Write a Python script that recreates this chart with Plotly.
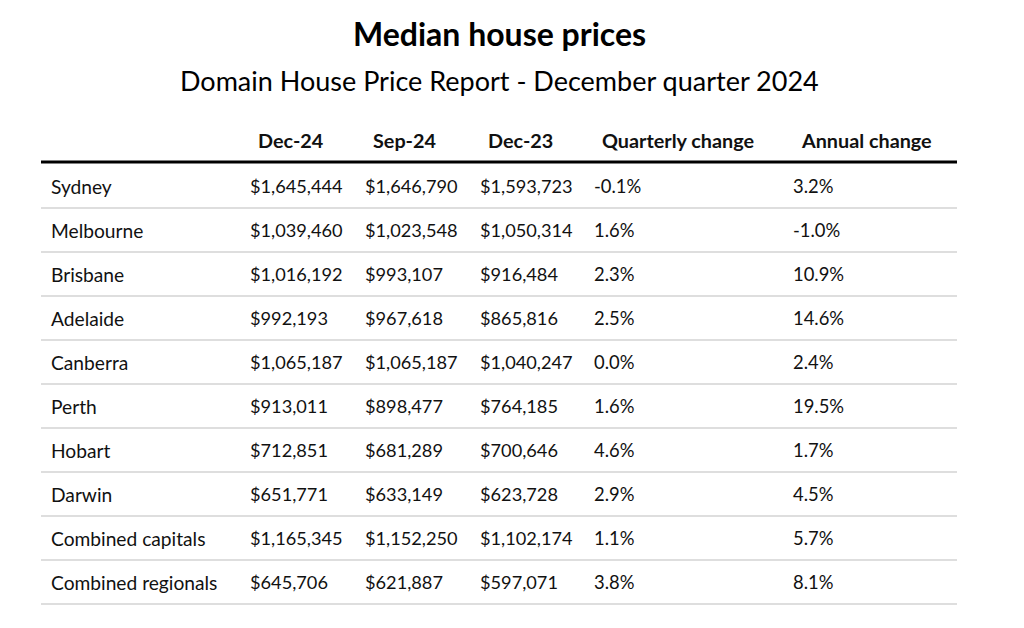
import plotly.graph_objects as go

title = "Median house prices"
subtitle = "Domain House Price Report - December quarter 2024"
headers = ["", "Dec-24", "Sep-24", "Dec-23", "Quarterly change", "Annual change"]
cities = ["Sydney", "Melbourne", "Brisbane", "Adelaide", "Canberra", "Perth",
          "Hobart", "Darwin", "Combined capitals", "Combined regionals"]
dec24 = [1645444, 1039460, 1016192, 992193, 1065187, 913011, 712851, 651771, 1165345, 645706]
sep24 = [1646790, 1023548, 993107, 967618, 1065187, 898477, 681289, 633149, 1152250, 621887]
dec23 = [1593723, 1050314, 916484, 865816, 1040247, 764185, 700646, 623728, 1102174, 597071]
q_change = [-0.1, 1.6, 2.3, 2.5, 0.0, 1.6, 4.6, 2.9, 1.1, 3.8]
a_change = [3.2, -1.0, 10.9, 14.6, 2.4, 19.5, 1.7, 4.5, 5.7, 8.1]

FONT = "Source Sans Pro, Lato, Noto Sans, sans-serif"
W, H = 1024, 628
OFF = 8  # page body margin
col_x = [49, 248, 363, 478, 592, 791]
head_x = [49, 256, 371, 486, 600, 799]
head_y = 139.5
row_y0 = 186
row_h = 44
left, right = 41, 957

columns = [
    cities,
    [f"${v:,}" for v in dec24],
    [f"${v:,}" for v in sep24],
    [f"${v:,}" for v in dec23],
    [f"{v:.1f}%" for v in q_change],
    [f"{v:.1f}%" for v in a_change],
]
col_size = [19.2, 18.2, 18.2, 18.2, 18.4, 18.4]

fig = go.Figure()
annotations = []
for j, h in enumerate(headers):
    if h:
        annotations.append(dict(x=head_x[j], y=head_y, xref="x", yref="y", text=f"<b>{h}</b>",
                                showarrow=False, xanchor="left", yanchor="middle",
                                font=dict(family=FONT, size=19.8, color="#111")))
for j, col in enumerate(columns):
    for i, t in enumerate(col):
        annotations.append(dict(x=col_x[j], y=row_y0 + i * row_h, xref="x", yref="y", text=t,
                                showarrow=False, xanchor="left", yanchor="middle",
                                font=dict(family=FONT, size=col_size[j], color="#111")))

annotations.append(dict(x=499.5, y=33, xref="x", yref="y", text=f"<b>{title}</b>",
                        showarrow=False, xanchor="center", yanchor="middle",
                        font=dict(family=FONT, size=32, color="#000")))
annotations.append(dict(x=499.5, y=80, xref="x", yref="y", text=subtitle,
                        showarrow=False, xanchor="center", yanchor="middle",
                        font=dict(family=FONT, size=27, color="#000")))

shapes = [dict(type="line", xref="x", yref="y", x0=left, x1=right, y0=162, y1=162,
               line=dict(color="#000", width=3))]
for i in range(len(cities)):
    yy = row_y0 + i * row_h + row_h / 2
    shapes.append(dict(type="line", xref="x", yref="y", x0=left, x1=right, y0=yy, y1=yy,
                       line=dict(color="#d3d3d3", width=1.5)))

fig.update_layout(
    width=W, height=H,
    margin=dict(l=0, r=0, t=0, b=0),
    paper_bgcolor="white", plot_bgcolor="white",
    xaxis=dict(range=[OFF, W + OFF], visible=False, fixedrange=True),
    yaxis=dict(range=[H + OFF, OFF], visible=False, fixedrange=True),
    annotations=annotations, shapes=shapes, showlegend=False,
)
fig.write_html("out.html")
